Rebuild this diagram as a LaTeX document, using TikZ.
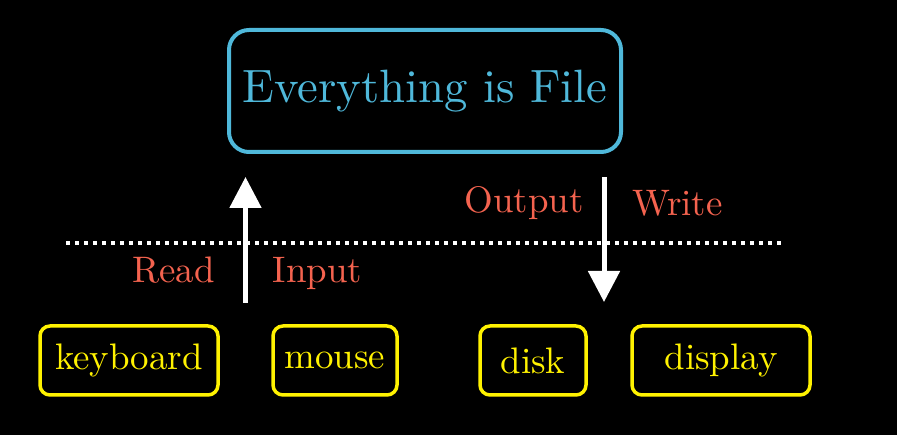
\documentclass[tikz,border=0pt]{standalone}
\usepackage{fontspec}
\setmainfont{lmroman10-regular.otf}
\usepackage{tikz}
\usetikzlibrary{shapes,arrows.meta}

\definecolor{fileblue}{HTML}{4FB8DA}
\definecolor{devyellow}{HTML}{FFF200}
\definecolor{lblred}{HTML}{F4634F}

\begin{document}
\begin{tikzpicture}[
  filebox/.style = {shape=rectangle, rounded corners=0.4cm, draw=fileblue,
    line width=0.08cm, text=fileblue, inner sep=0pt,
    minimum width=7.84cm, minimum height=2.44cm,
    font=\fontsize{26.6}{30}\selectfont},
  devbox/.style = {shape=rectangle, rounded corners=0.2cm, draw=devyellow,
    line width=0.07cm, text=devyellow, inner sep=0pt,
    minimum height=1.38cm, font=\fontsize{21}{25}\selectfont},
  lbl/.style = {text=lblred, inner sep=0pt, anchor=base,
    font=\fontsize{21}{25}\selectfont},
  flow/.style = {white, line width=0.1cm,
    -{Triangle[width=0.62cm,length=0.62cm]}}]
  \fill[black] (0,0) rectangle (17.94,-8.7);
  \useasboundingbox (0,0) rectangle (17.94,-8.7);

  % the file
  \node[filebox] (file) at (8.5,-1.82) {Everything is File};

  % devices
  \node[devbox, minimum width=3.56cm] (keyboard) at (2.58,-7.21) {keyboard};
  \node[devbox, minimum width=2.48cm] (mouse) at (6.70,-7.21) {mouse};
  \node[devbox, minimum width=2.12cm] (disk) at (10.66,-7.21) {disk};
  \node[devbox, minimum width=3.56cm] (display) at (14.42,-7.21) {display};

  % boundary
  \coordinate (lineL) at (1.32,-4.86);
  \coordinate (lineR) at (15.66,-4.86);
  \draw[white, line width=0.07cm, dash pattern=on 0.08cm off 0.10cm] (lineL) -- (lineR);

  % read / write
  \coordinate (inbot) at (4.91,-6.06);
  \coordinate (intop) at (4.91,-3.54);
  \coordinate (outtop) at (12.08,-3.54);
  \coordinate (outbot) at (12.08,-6.04);
  \draw[flow] (inbot) -- (intop);
  \draw[flow] (outtop) -- (outbot);

  \node[lbl] (read) at (3.47,-5.66) {Read};
  \node[lbl] (input) at (6.35,-5.66) {Input};
  \node[lbl] (output) at (10.48,-4.26) {Output};
  \node[lbl] (write) at (13.55,-4.32) {Write};
\end{tikzpicture}
\end{document}
